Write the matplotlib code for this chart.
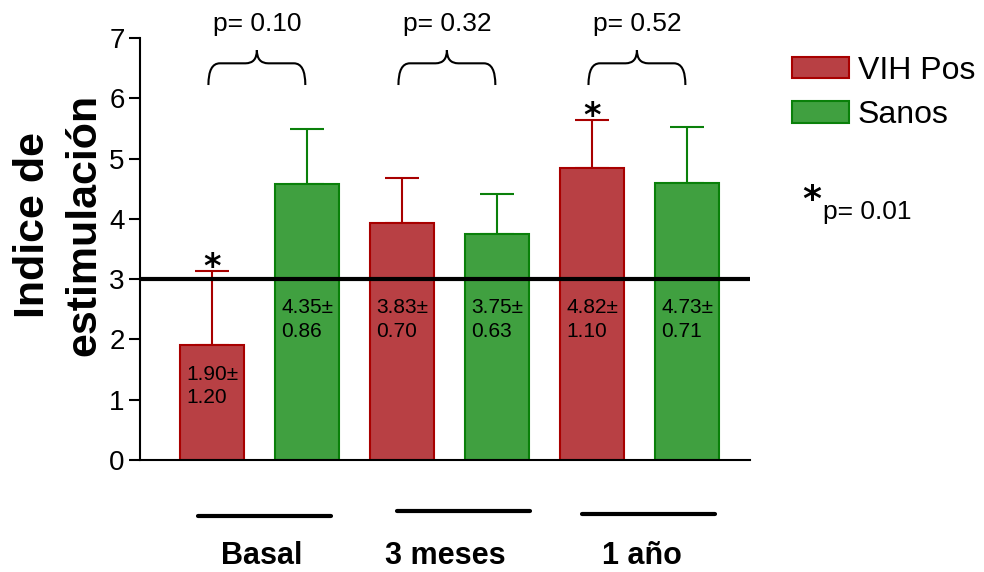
import numpy as np
import matplotlib
matplotlib.use("Agg")
import matplotlib.pyplot as plt
from matplotlib.path import Path
from matplotlib.patches import PathPatch, Patch

plt.rcParams['font.family'] = ['Liberation Sans', 'DejaVu Sans']

# data
groups = ['Basal', '3 meses', '1 año']
series = ['VIH Pos', 'Sanos']
bar_heights = [1.90, 4.58, 3.93, 3.75, 4.85, 4.60]
bar_errors = [1.23, 0.91, 0.75, 0.66, 0.79, 0.93]
bar_labels = ['1.90±\n1.20', '4.35±\n0.86', '3.83±\n0.70',
              '3.75±\n0.63', '4.82±\n1.10', '4.73±\n0.71']
p_values = ['p= 0.10', 'p= 0.32', 'p= 0.52']
starred = [0, 4]
threshold = 3

red_fill, red_edge = '#B84044', '#A80000'
green_fill, green_edge = '#40A040', '#0A800A'

fig = plt.figure(figsize=(9.84, 5.72), dpi=100)
ax = fig.add_axes([140 / 984, 112 / 572, 610 / 984, 422 / 572])

x = np.arange(len(bar_heights))
fills = [red_fill, green_fill] * 3
edges = [red_edge, green_edge] * 3
width = 0.67

ax.bar(x, bar_heights, width=width, color=fills, edgecolor=edges, linewidth=1.5, zorder=2)
for xi, h, e, c in zip(x, bar_heights, bar_errors, edges):
    ax.errorbar(xi, h, yerr=[[0], [e]], fmt='none', ecolor=c, elinewidth=1.5,
                capsize=12, capthick=1.5, zorder=1)

# labels inside bars
for xi, h, lab in zip(x, bar_heights, bar_labels):
    ytop = min(h, 3.0) - 0.32
    ax.text(xi - width / 2 + 0.06, ytop, lab, ha='left', va='top', fontsize=15,
            linespacing=1.3, zorder=4)

# threshold line
ax.axhline(threshold, color='black', linewidth=3, zorder=3)

# asterisks
for i in starred:
    ax.text(x[i], bar_heights[i] + bar_errors[i] - 0.1, '*', ha='center', va='baseline',
            fontsize=24, fontweight='bold', family='DejaVu Sans')

ax.set_xlim(-0.76, 5.66)
ax.set_ylim(0, 7)
ax.set_yticks(range(8))
ax.tick_params(axis='y', labelsize=20, length=8, width=1.5, direction='out', pad=3)
ax.set_xticks([])
for s in ['top', 'right']:
    ax.spines[s].set_visible(False)
ax.spines['left'].set_linewidth(1.5)
ax.spines['bottom'].set_linewidth(1.5)

ax.set_ylabel('Indice de\nestimulación', fontsize=31, fontweight='bold',
              linespacing=1.36)
ax.yaxis.set_label_coords(-0.059, 0.556)


def brace(ax, x0, x1, y0, y1, y2):
    xm = (x0 + x1) / 2
    r = 0.12
    verts = [(x0, y0), (x0, y1), (x0 + r, y1),
             (xm - r, y1), (xm, y1), (xm, y2),
             (xm, y1), (xm + r, y1),
             (x1 - r, y1), (x1, y1), (x1, y0)]
    codes = [Path.MOVETO, Path.CURVE3, Path.CURVE3,
             Path.LINETO, Path.CURVE3, Path.CURVE3,
             Path.CURVE3, Path.CURVE3,
             Path.LINETO, Path.CURVE3, Path.CURVE3]
    ax.add_patch(PathPatch(Path(verts, codes), fill=False, lw=1.5,
                           color='black', clip_on=False))


for g, p in enumerate(p_values):
    x0, x1 = x[2 * g] - 0.04, x[2 * g + 1] - 0.02
    brace(ax, x0, x1, 6.22, 6.58, 6.8)
    ax.text((x0 + x1) / 2, 7.24, p, ha='center', va='center', fontsize=19, clip_on=False)

# group lines and labels below axis
line_y = [-0.93, -0.85, -0.9]
line_off = [0.05, 0.14, 0.09]
label_off = [0.02, -0.05, 0.02]
for g, name in enumerate(groups):
    c = (x[2 * g] + x[2 * g + 1]) / 2
    ax.plot([c + line_off[g] - 0.7, c + line_off[g] + 0.7], [line_y[g]] * 2,
            color='black', lw=3, solid_capstyle='round', clip_on=False)
    ax.text(c + label_off[g], -1.6, name, ha='center', va='center', fontsize=22,
            fontweight='bold', clip_on=False)

# legend
handles = [Patch(facecolor=red_fill, edgecolor=red_edge, lw=1.5),
           Patch(facecolor=green_fill, edgecolor=green_edge, lw=1.5)]
fig.legend(handles, series, loc='upper left', bbox_to_anchor=(763 / 984, 1 - 27 / 572),
           frameon=False, fontsize=23, handlelength=1.8, handleheight=0.66,
           handletextpad=0.26, labelspacing=0.45)

fig.text(812 / 984, 1 - 210 / 572, '*', fontsize=26, fontweight='bold',
         family='DejaVu Sans', ha='center', va='baseline')
fig.text(823 / 984, 1 - 212 / 572, 'p= 0.01', fontsize=19, va='center')

fig.savefig('out.png', dpi=100)
